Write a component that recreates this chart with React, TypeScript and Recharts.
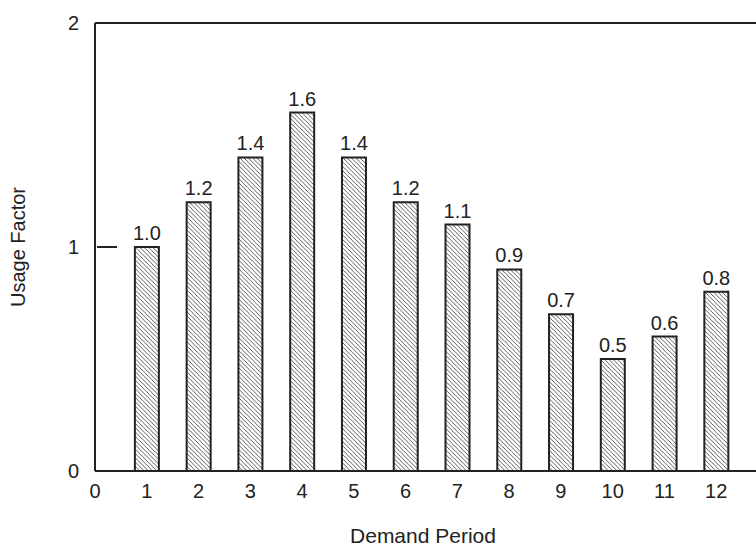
import { BarChart, Bar, XAxis, YAxis, LabelList, ReferenceLine, Label } from 'recharts';

const periods = [1, 2, 3, 4, 5, 6, 7, 8, 9, 10, 11, 12];
const usage = [1.0, 1.2, 1.4, 1.6, 1.4, 1.2, 1.1, 0.9, 0.7, 0.5, 0.6, 0.8];
const xTicks = [0, 1, 2, 3, 4, 5, 6, 7, 8, 9, 10, 11, 12];
const yTicks = [0, 1, 2];

const data = periods.map((p, i) => ({ period: p, usage: usage[i] }));

const font = 'Liberation Sans, Arial, Helvetica, sans-serif';
const ink = '#222';

function YTick(props: any) {
  const { x, y, payload } = props;
  return (
    <g>
      <text x={x - 8} y={y} dy={7} textAnchor="end" fontSize={20} fill={ink} fontFamily={font}>
        {payload.value}
      </text>
      {payload.value === 1 && <line x1={x + 10} x2={x + 30} y1={y} y2={y} stroke={ink} strokeWidth={2} />}
    </g>
  );
}

function YTitle(props: any) {
  const { viewBox } = props;
  const cx = viewBox.x + 18;
  const cy = viewBox.y + viewBox.height / 2;
  return (
    <text
      x={cx}
      y={cy}
      transform={`rotate(-90 ${cx} ${cy})`}
      textAnchor="middle"
      dominantBaseline="central"
      fontSize={20}
      fill={ink}
      fontFamily={font}
    >
      Usage Factor
    </text>
  );
}

function XTitle(props: any) {
  const { viewBox } = props;
  return (
    <text
      x={423}
      y={viewBox.y + 72}
      textAnchor="middle"
      fontSize={21}
      fill={ink}
      fontFamily={font}
    >
      Demand Period
    </text>
  );
}

export default function App() {
  return (
    <div style={{ position: 'absolute', left: 0, top: 0, width: 756, height: 548, overflow: 'hidden', background: '#fff' }}>
      <BarChart
        width={780}
        height={548}
        data={data}
        margin={{ top: 23, right: 12, bottom: 0, left: 0 }}
      >
        <defs>
          <pattern id="hatch" patternUnits="userSpaceOnUse" width="4.3" height="4.3">
            <path d="M0,0 L4.3,4.3 M-1,3.3 L1,5.3 M3.3,-1 L5.3,1" stroke="#333" strokeWidth={0.8} />
          </pattern>
        </defs>
        <XAxis
          type="number"
          dataKey="period"
          domain={[0, 13]}
          ticks={xTicks}
          tickLine={false}
          axisLine={{ stroke: ink, strokeWidth: 2 }}
          tick={{ fontSize: 20, fill: ink, fontFamily: font, dy: 5 }}
          height={77}
          allowDecimals={false}
          interval={0}
        >
          <Label content={<XTitle />} />
        </XAxis>
        <YAxis
          type="number"
          domain={[0, 2]}
          ticks={yTicks}
          tickLine={false}
          axisLine={{ stroke: ink, strokeWidth: 2 }}
          tick={<YTick />}
          width={95}
        >
          <Label content={<YTitle />} />
        </YAxis>
        <ReferenceLine y={2} stroke={ink} strokeWidth={2} />
        <Bar dataKey="usage" barSize={24} fill="url(#hatch)" stroke={ink} strokeWidth={2} isAnimationActive={false}>
          <LabelList
            dataKey="usage"
            position="top"
            offset={7}
            formatter={(v: any) => Number(v).toFixed(1)}
            style={{ fontSize: 20, fill: ink, fontFamily: font }}
          />
        </Bar>
      </BarChart>
    </div>
  );
}
